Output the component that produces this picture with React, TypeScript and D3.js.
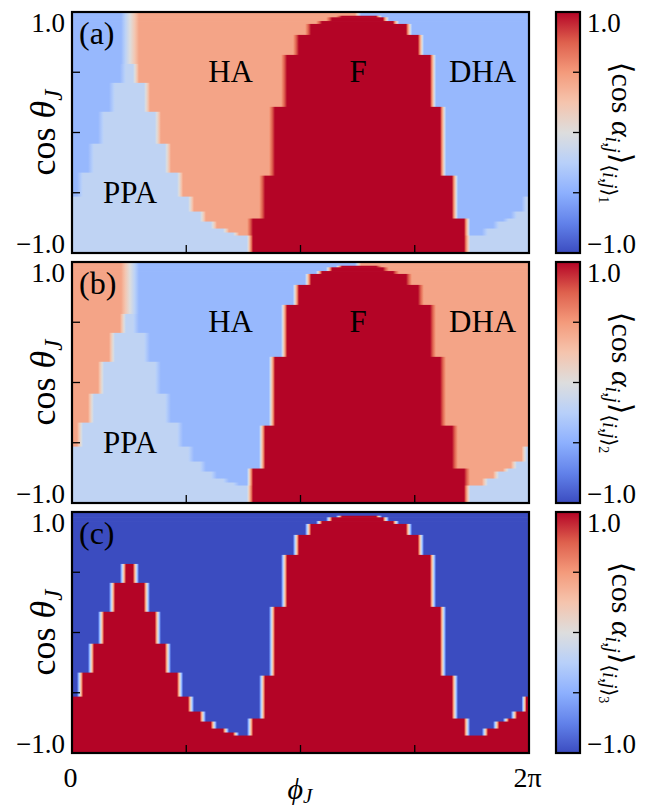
import React from "react";
import * as d3 from "d3";

// ---- colour map (Moreland "coolwarm"), value -1 … 1 ----
const CMAP_VALUES = [-1, -0.75, -0.5, -0.25, 0, 0.25, 0.5, 0.75, 1];
const CMAP_COLORS = ["#3b4cc0", "#6282ea", "#8db0fe", "#b8d0f9", "#dddddd", "#f5c4ad", "#f49a7b", "#de604d", "#b40426"];

// ---- axes ----
const PHI_TICKS = [0, 0.5, 1, 1.5, 2]; // φ_J in units of π
const PHI_TICK_LABELS = ["0", "", "", "", "2π"];
const COS_TICKS = [-1, -0.5, 0, 0.5, 1];
const COS_TICK_LABELS = ["−1.0", "", "", "", "1.0"];
const CBAR_TICKS = [-1, -0.5, 0, 0.5, 1];
const CBAR_TICK_LABELS = ["−1.0", "", "", "", "1.0"];

// ---- phase boundaries: [cos θ_J at lower end of step, φ_J / π] (steps read top → bottom) ----
const B_STRIP_PPA = [[0.569, 0.254], [0.412, 0.223], [0.172, 0.175], [-0.093, 0.127], [-0.333, 0.083], [-0.532, 0.035], [-1.0, 0.0]];
const B_PPA_HA = [[0.569, 0.254], [0.412, 0.28], [0.172, 0.328], [-0.093, 0.376], [-0.333, 0.42], [-0.532, 0.473], [-0.656, 0.521], [-0.739, 0.573], [-0.797, 0.621], [-0.83, 0.674], [-0.855, 0.718], [-1.0, 0.779]];
const B_HA_F = [[0.969, 1.252], [0.956, 1.168], [0.925, 1.125], [0.901, 1.081], [0.81, 1.033], [0.644, 0.98], [0.213, 0.928], [-0.358, 0.875], [-0.714, 0.832], [-1.0, 0.779]];
const B_F_DHA = [[0.969, 1.252], [0.956, 1.344], [0.925, 1.374], [0.901, 1.418], [0.81, 1.475], [0.644, 1.527], [0.213, 1.58], [-0.358, 1.624], [-0.714, 1.676], [-1.0, 1.729]];
const B_DHA_CORNER = [[-0.532, 2.0], [-0.656, 1.978], [-0.714, 1.934], [-0.739, 1.899], [-0.797, 1.856], [-0.855, 1.807], [-1.0, 1.729]];

// region order: left strip, PPA, HA, F, DHA, lower-right PPA corner
const VALUES_A = [-0.44, -0.2, 0.44, 1, -0.44, -0.2];
const VALUES_B = [0.44, -0.2, -0.44, 1, 0.44, -0.2];
const VALUES_C = [-1, 1, -1, 1, -1, 1];

const PANEL_TAGS = ["(a)", "(b)", "(c)"];
const CBAR_SUBS = ["1", "2", "3"];

const REGION_LABELS = ["HA", "F", "DHA", "PPA"];
const REGION_LABEL_PHI = [0.694, 1.252, 1.797, 0.254];
const REGION_LABEL_COS = [0.419, 0.419, 0.419, -0.585];

// ---- layout ----
const X0 = 72, X1 = 529, PH = 241;
const TOPS = [12, 262, 512];
const CB_X0 = 556, CB_X1 = 580;
const FONT = "'Liberation Serif', 'DejaVu Serif', serif";

function evalBoundary(b: number[][], mid: number) {
  for (const [c, p] of b) if (mid > c) return p;
  return b[b.length - 1][1];
}

export default function App() {
  const x = d3.scaleLinear().domain([0, 2]).range([X0, X1]);
  const cmap = d3.scaleLinear<string>().domain(CMAP_VALUES).range(CMAP_COLORS).interpolate(d3.interpolateRgb).clamp(true);
  const bounds = [B_STRIP_PPA, B_PPA_HA, B_HA_F, B_F_DHA, B_DHA_CORNER];
  const edgeSet = new Set<number>([1, -1]);
  bounds.forEach((b) => b.forEach(([c]) => edgeSet.add(c)));
  const edges = Array.from(edgeSet).sort((a, b) => b - a);
  const rows = d3.pairs(edges).map(([cTop, cBot]) => {
    const mid = (cTop + cBot) / 2;
    return { cTop, cBot, phis: bounds.map((b) => evalBoundary(b, mid)) };
  });
  const panelValues = [VALUES_A, VALUES_B, VALUES_C];

  function rowStops(phis: number[], vals: number[]) {
    const xs = [X0, ...phis.map((p) => x(p)), X1];
    const segs: { a: number; b: number; v: number; idx: number }[] = [];
    for (let i = 0; i < vals.length; i++) {
      if (xs[i + 1] - xs[i] > 0.3) segs.push({ a: xs[i], b: xs[i + 1], v: vals[i], idx: i });
    }
    const pts = [{ x: X0, v: segs[0].v }];
    const N = 8;
    for (let k = 1; k < segs.length; k++) {
      const L = segs[k - 1], R = segs[k];
      const xb = (L.b + R.a) / 2;
      const w = L.idx === 0 && R.idx === 2 ? 18 : 6;
      const half = Math.min(w / 2, (L.b - L.a) / 2, (R.b - R.a) / 2);
      for (let j = 0; j <= N; j++) {
        const t = j / N;
        pts.push({ x: xb - half + 2 * half * t, v: L.v + (R.v - L.v) * t });
      }
    }
    pts.push({ x: X1, v: segs[segs.length - 1].v });
    return pts.map((p) => ({ off: Math.max(0, Math.min(1, (p.x - X0) / (X1 - X0))), color: cmap(p.v) }));
  }

  const cbStops = d3.range(0, 33).map((i) => -1 + (2 * i) / 32);

  return (
    <svg width={653} height={810} style={{ position: "absolute", left: 0, top: 0, display: "block", fontFamily: FONT }}>
      <rect x={0} y={0} width={653} height={810} fill="#fff" />
      <defs>
        <linearGradient id="cbar" x1="0" y1="1" x2="0" y2="0">
          {cbStops.map((v, i) => (
            <stop key={i} offset={(v + 1) / 2} stopColor={cmap(v)} />
          ))}
        </linearGradient>
        {panelValues.map((vals, pi) =>
          rows.map((r, ri) => (
            <linearGradient key={`g${pi}-${ri}`} id={`g${pi}-${ri}`} gradientUnits="userSpaceOnUse" x1={X0} x2={X1} y1={0} y2={0}>
              {rowStops(r.phis, vals).map((s, k) => (
                <stop key={k} offset={s.off} stopColor={s.color} />
              ))}
            </linearGradient>
          ))
        )}
        {TOPS.map((top, pi) => (
          <clipPath key={pi} id={`clip${pi}`}>
            <rect x={X0} y={top} width={X1 - X0} height={PH} />
          </clipPath>
        ))}
      </defs>
      {TOPS.map((top, pi) => {
        const y = d3.scaleLinear().domain([-1, 1]).range([top + PH, top]);
        const yc = d3.scaleLinear().domain([-1, 1]).range([top + PH, top]);
        return (
          <g key={pi}>
            <g clipPath={`url(#clip${pi})`}>
              {rows.map((r, ri) => (
                <rect key={ri} x={X0} y={y(r.cTop)} width={X1 - X0} height={y(r.cBot) - y(r.cTop) + 0.6} fill={`url(#g${pi}-${ri})`} />
              ))}
            </g>
            {COS_TICKS.filter((t) => Math.abs(t) < 1).map((t) => (
              <line key={`yt${t}`} x1={X0} x2={X0 + 8} y1={y(t)} y2={y(t)} stroke="#000" strokeWidth={1.3} />
            ))}
            {PHI_TICKS.filter((t) => t > 0 && t < 2).map((t) => (
              <line key={`xt${t}`} x1={x(t)} x2={x(t)} y1={top + PH} y2={top + PH - 8} stroke="#000" strokeWidth={1.3} />
            ))}
            <rect x={X0} y={top} width={X1 - X0} height={PH} fill="none" stroke="#000" strokeWidth={2.2} />
            {COS_TICKS.map((t, i) =>
              COS_TICK_LABELS[i] ? (
                <text key={`yl${i}`} x={65} y={t > 0 ? top + 19.5 : top + PH - 0.5} textAnchor="end" fontSize={27}>
                  {COS_TICK_LABELS[i]}
                </text>
              ) : null
            )}
            <text transform={`translate(55, ${top + PH / 2}) rotate(-90)`} textAnchor="middle" fontSize={36}>
              cos <tspan fontStyle="italic">θ</tspan>
              <tspan fontStyle="italic" fontSize={25} dy={7}>J</tspan>
            </text>
            <text x={79} y={top + 32} fontSize={32}>{PANEL_TAGS[pi]}</text>
            {pi < 2 &&
              REGION_LABELS.map((lab, i) => (
                <text key={lab} x={x(REGION_LABEL_PHI[i])} y={y(REGION_LABEL_COS[i])} textAnchor="middle" fontSize={31}>
                  {lab}
                </text>
              ))}
            <rect x={CB_X0} y={top} width={CB_X1 - CB_X0} height={PH} fill="url(#cbar)" />
            {CBAR_TICKS.filter((t) => Math.abs(t) < 1).map((t) => (
              <line key={`ct${t}`} x1={CB_X1} x2={CB_X1 - 7} y1={yc(t)} y2={yc(t)} stroke="#000" strokeWidth={1.3} />
            ))}
            <rect x={CB_X0} y={top} width={CB_X1 - CB_X0} height={PH} fill="none" stroke="#000" strokeWidth={2.2} />
            {CBAR_TICKS.map((t, i) =>
              CBAR_TICK_LABELS[i] ? (
                <text key={`cl${i}`} x={587} y={t > 0 ? top + 19.5 : top + PH - 0.5} fontSize={27}>
                  {CBAR_TICK_LABELS[i]}
                </text>
              ) : null
            )}
            <text transform={`translate(612, ${top + PH / 2}) rotate(90)`} textAnchor="middle" fontSize={30}>
              ⟨cos <tspan fontStyle="italic">α</tspan>
              <tspan fontStyle="italic" fontSize={20} dy={6}>i,j</tspan>
              <tspan dy={-6}>⟩</tspan>
              <tspan fontSize={20} dy={9}>⟨</tspan>
              <tspan fontSize={20} fontStyle="italic">i,j</tspan>
              <tspan fontSize={20}>⟩</tspan>
              <tspan fontSize={14} dy={4}>{CBAR_SUBS[pi]}</tspan>
            </text>
          </g>
        );
      })}
      {PHI_TICKS.map((t, i) =>
        PHI_TICK_LABELS[i] ? (
          <text key={`xl${i}`} x={x(t) - 1.5} y={787} textAnchor="middle" fontSize={28}>
            {PHI_TICK_LABELS[i]}
          </text>
        ) : null
      )}
      <text x={300} y={799} textAnchor="middle" fontSize={30}>
        <tspan fontStyle="italic">ϕ</tspan>
        <tspan fontStyle="italic" fontSize={21} dy={4}>J</tspan>
      </text>
    </svg>
  );
}
